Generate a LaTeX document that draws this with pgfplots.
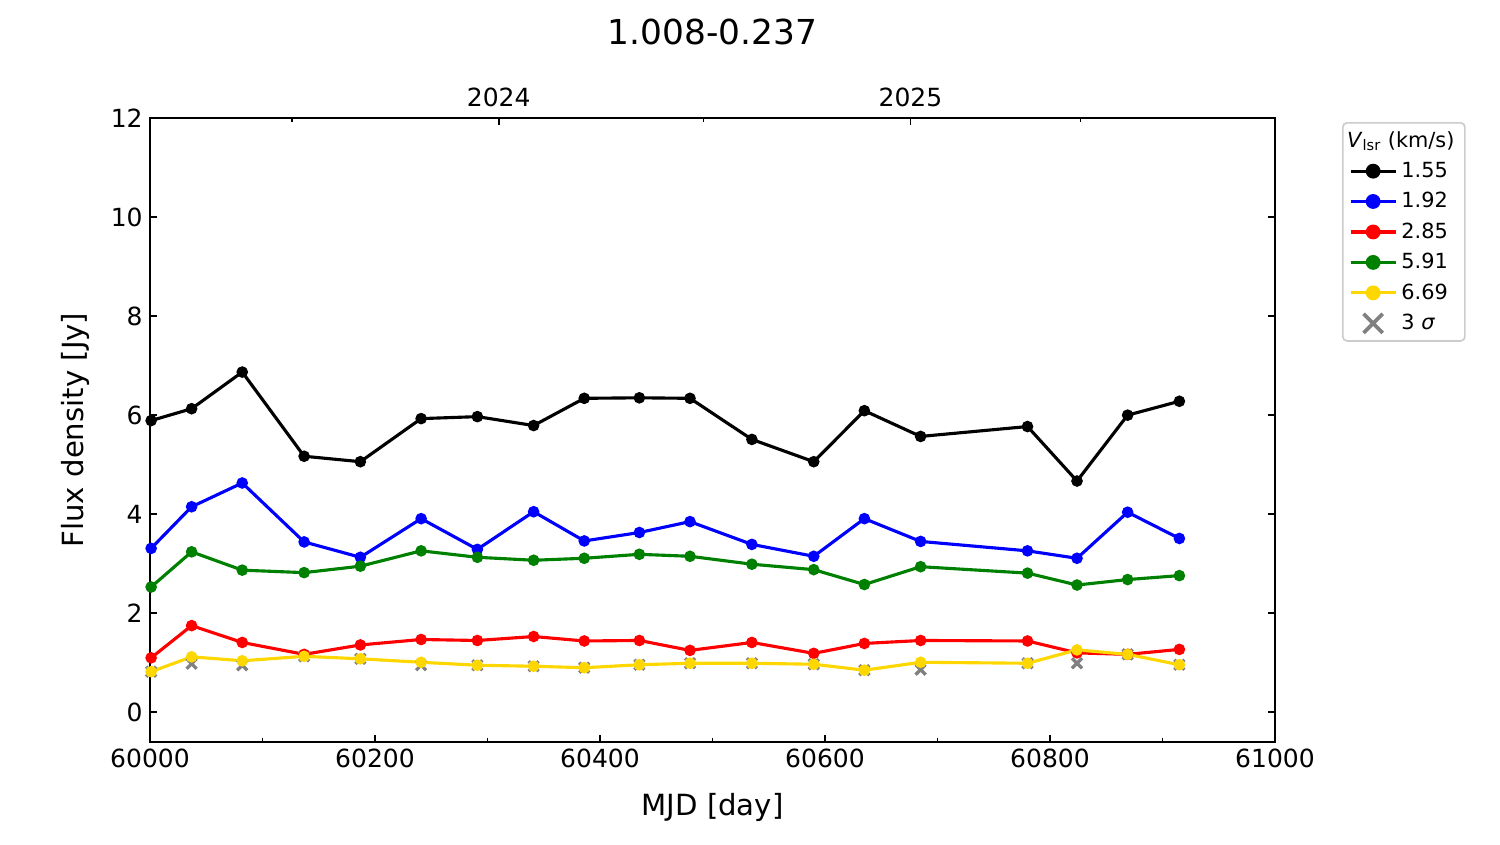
\documentclass[border=0pt]{standalone}
\usepackage{pgfplots}
\usepackage{pgfplotstable}
\pgfplotsset{compat=1.18}
\usepackage{fontspec}
\setmainfont{DejaVu Sans}
\definecolor{mgreen}{RGB}{0,128,0}
\definecolor{mgold}{RGB}{255,215,0}
\definecolor{mgray}{RGB}{128,128,128}
\definecolor{lgray}{RGB}{204,204,204}
\pgfplotsset{
  linelegend/.style={legend image code/.code={\draw[##1, mark repeat=2, mark phase=2, mark size=2.8pt] plot coordinates {(0pt,0pt)(10.8pt,0pt)(21.6pt,0pt)};}},
  sigmalegend/.style={legend image code/.code={\draw[mgray, line width=1.8pt, mark=x, mark size=6.5pt] plot[only marks] coordinates {(10.8pt,0pt)};}},
}

\pgfplotstableread{
mjd   black blue red  green yellow sig
60001 5.89 3.31 1.10 2.53 0.82 0.82
60037 6.13 4.15 1.75 3.24 1.12 0.98
60082 6.87 4.63 1.41 2.87 1.04 0.95
60137 5.17 3.44 1.17 2.82 1.13 1.13
60187 5.06 3.13 1.36 2.95 1.08 1.08
60241 5.93 3.91 1.47 3.26 1.01 0.95
60291 5.97 3.29 1.45 3.13 0.95 0.95
60341 5.79 4.05 1.53 3.07 0.93 0.93
60386 6.34 3.46 1.44 3.11 0.90 0.90
60435 6.35 3.63 1.45 3.19 0.96 0.96
60480 6.34 3.85 1.25 3.15 0.99 0.99
60535 5.51 3.39 1.41 2.99 0.99 0.99
60590 5.06 3.15 1.19 2.88 0.97 0.97
60635 6.09 3.91 1.39 2.58 0.85 0.85
60685 5.57 3.45 1.45 2.94 1.01 0.86
60780 5.77 3.26 1.44 2.81 0.99 0.99
60824 4.67 3.11 1.20 2.57 1.26 0.99
60869 6.00 4.04 1.17 2.68 1.17 1.17
60915 6.28 3.51 1.27 2.76 0.96 0.96
}\data

\begin{document}
\begin{tikzpicture}
\useasboundingbox (-72pt,-48.96pt) rectangle (648pt,356.16pt);
% top axis with years
\begin{axis}[
  at={(0,0)}, anchor=south west,
  scale only axis, width=540pt, height=299.52pt,
  xmin=60000, xmax=61000, ymin=-0.6, ymax=12,
  scaled x ticks=false,
  hide y axis,
  xtick pos=right, xticklabel pos=right,
  xtick={60310,60676}, xticklabels={2024,2025},
  minor xtick={60126,60492,60827},
  tick align=inside,
  major tick length=3.5pt, minor tick length=2pt,
  tick style={black, line width=0.8pt},
  axis line style={line width=0.8pt},
  xticklabel style={font=\fontsize{12}{14}\selectfont, yshift=2pt},
]
\end{axis}
\begin{axis}[
  at={(0,0)}, anchor=south west,
  scale only axis, width=540pt, height=299.52pt,
  xmin=60000, xmax=61000, ymin=-0.6, ymax=12,
  scaled x ticks=false,
  xtick={60000,60200,60400,60600,60800,61000},
  xticklabels={60000,60200,60400,60600,60800,61000},
  minor xtick={60100,60300,60500,60700,60900},
  ytick={0,2,4,6,8,10,12},
  xtick pos=left, ytick pos=both,
  tick align=inside,
  major tick length=3.5pt, minor tick length=2pt,
  tick style={black, line width=0.8pt},
  axis line style={line width=0.8pt},
  /pgf/number format/assume math mode=true,
  ticklabel style={font=\fontsize{12}{14}\selectfont},
  xlabel={MJD [day]}, ylabel={Flux density [Jy]},
  label style={font=\fontsize{14}{17}\selectfont},
  xlabel style={at={(axis description cs:0.5,0)}, anchor=center, yshift=-31.5pt},
  ylabel style={at={(axis description cs:-0.0667,0.5)}, anchor=center},
  title={1.008-0.237},
  title style={font=\fontsize{16.5}{19}\selectfont, at={(axis description cs:0.5,1)}, anchor=center, yshift=35.5pt},
  legend style={at={(axis description cs:1,1)}, anchor=north west, xshift=32.16pt, yshift=-1.92pt,
    draw=lgray, line width=0.8pt, rounded corners=2pt, font=\fontsize{10}{12}\selectfont,
    cells={anchor=west}, row sep=1.7pt, inner xsep=3pt, inner ysep=2pt},
  linelegend,
]
\addlegendimage{empty legend}
\addlegendentry{\hspace{-26pt}\textit{V}\textsubscript{lsr} (km/s)}
\addplot[forget plot, only marks, mark=x, mark size=3.4pt, mgray, line width=1.6pt] table[x=mjd,y=sig]{\data};
\addplot[black, line width=1.5pt, mark=*, mark size=2pt] table[x=mjd,y=black]{\data};
\addlegendentry{1.55}
\addplot[blue, line width=1.5pt, mark=*, mark size=2pt] table[x=mjd,y=blue]{\data};
\addlegendentry{1.92}
\addplot[red, line width=1.5pt, mark=*, mark size=2pt] table[x=mjd,y=red]{\data};
\addlegendentry{2.85}
\addplot[mgreen, line width=1.5pt, mark=*, mark size=2pt] table[x=mjd,y=green]{\data};
\addlegendentry{5.91}
\addplot[mgold, line width=1.5pt, mark=*, mark size=2pt] table[x=mjd,y=yellow]{\data};
\addlegendentry{6.69}
\addlegendimage{sigmalegend}
\addlegendentry{3 \textit{σ}}
\end{axis}
\end{tikzpicture}
\end{document}
